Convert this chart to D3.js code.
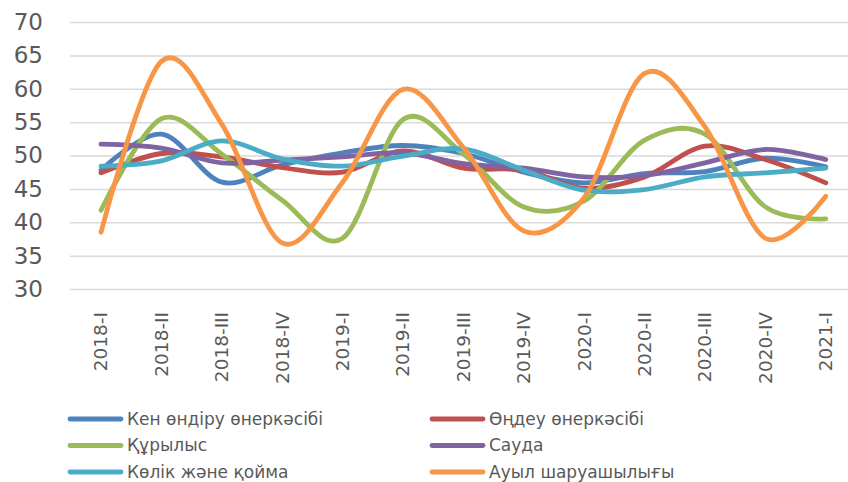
<!DOCTYPE html>
<html lang="kk">
<head>
<meta charset="UTF-8">
<script src="https://d3js.org/d3.v7.min.js"></script>
<title>Chart</title>
<style>
  body { margin: 0; background: #fff; }
  svg { display: block; }
</style>
</head>
<body>
<div id="chart"></div>
<script>
const quarters = ["2018-I", "2018-II", "2018-III", "2018-IV", "2019-I", "2019-II", "2019-III",
                  "2019-IV", "2020-I", "2020-II", "2020-III", "2020-IV", "2021-I"];
const yTicks = [30, 35, 40, 45, 50, 55, 60, 65, 70];

const seriesNames = ["Кен өндіру өнеркәсібі", "Өңдеу өнеркәсібі", "Құрылыс", "Сауда", "Көлік және қойма", "Ауыл шаруашылығы"];
const mining      = [47.8, 53.2, 46.0, 48.6, 50.4, 51.5, 50.3, 47.5, 45.9, 47.3, 47.6, 49.6, 48.3];
const manufacture = [47.4, 50.3, 49.8, 48.2, 47.5, 50.7, 48.1, 47.8, 45.1, 46.8, 51.4, 49.4, 45.9];
const construction= [41.8, 55.5, 50.2, 43.3, 37.6, 55.4, 50.2, 42.3, 43.2, 52.3, 53.2, 42.3, 40.5];
const trade       = [51.7, 51.1, 48.9, 49.3, 49.8, 50.4, 48.8, 48.1, 46.8, 47.0, 48.9, 50.9, 49.4];
const transport   = [48.4, 49.2, 52.2, 49.5, 48.4, 49.9, 51.0, 47.8, 44.8, 44.9, 46.8, 47.4, 48.1];
const agriculture = [38.5, 64.1, 54.7, 36.9, 46.0, 59.9, 51.2, 38.7, 43.7, 62.3, 54.3, 37.6, 43.9];
const seriesValues = [mining, manufacture, construction, trade, transport, agriculture];
const colors = ["#4F81BD", "#C0504D", "#9BBB59", "#8064A2", "#4BACC6", "#F79646"];

const width = 848, height = 482;
const svg = d3.select("#chart").append("svg")
    .attr("width", width)
    .attr("height", height);

const x = d3.scaleBand().domain(quarters).range([70.8, 856]);
const y = d3.scaleLinear().domain([30, 70]).range([289, 22]);

// grid + y labels
const yAxis = svg.append("g")
    .attr("transform", "translate(70,0)")
    .call(d3.axisLeft(y).tickValues(yTicks).tickSize(-(856 - 70)).tickPadding(27));
yAxis.select(".domain").remove();
yAxis.selectAll(".tick line").attr("stroke", "#d9d9d9").attr("stroke-width", 1.5);
yAxis.selectAll(".tick text")
    .attr("fill", "#595959")
    .attr("font-family", "DejaVu Sans")
    .attr("font-size", "23px");

// x labels
const xAxis = svg.append("g")
    .attr("transform", "translate(0,300)")
    .call(d3.axisBottom(x).tickSize(0).tickPadding(0));
xAxis.select(".domain").remove();
xAxis.selectAll(".tick text")
    .attr("fill", "#595959")
    .attr("font-family", "DejaVu Sans")
    .attr("font-size", "18.5px")
    .attr("transform", "rotate(-90)")
    .attr("text-anchor", "end")
    .attr("x", -12)
    .attr("y", 0)
    .attr("dy", "0.35em");

const line = d3.line()
    .x((d, i) => x(quarters[i]) + x.bandwidth() / 2)
    .y(d => y(d))
    .curve(d3.curveCardinal.tension(0));

svg.selectAll(".series")
    .data(seriesValues)
    .enter()
    .append("path")
    .attr("class", "series")
    .attr("d", d => line(d))
    .attr("fill", "none")
    .attr("stroke", (d, i) => colors[i])
    .attr("stroke-width", 4.8)
    .attr("stroke-linecap", "round")
    .attr("stroke-linejoin", "round");

// legend
const legend = svg.append("g");
const items = legend.selectAll(".item")
    .data(seriesNames)
    .enter()
    .append("g")
    .attr("class", "item")
    .attr("transform", (d, i) => `translate(${i % 2 === 0 ? 68 : 430},${419 + Math.floor(i / 2) * 26.5})`);
items.append("line")
    .attr("x1", 2).attr("x2", 53)
    .attr("stroke", (d, i) => colors[i])
    .attr("stroke-width", 4.8)
    .attr("stroke-linecap", "round");
items.append("text")
    .attr("x", 59)
    .attr("dy", "0.35em")
    .attr("fill", "#595959")
    .attr("font-family", "DejaVu Sans")
    .attr("font-size", "17px")
    .text(d => d);
</script>
</body>
</html>
